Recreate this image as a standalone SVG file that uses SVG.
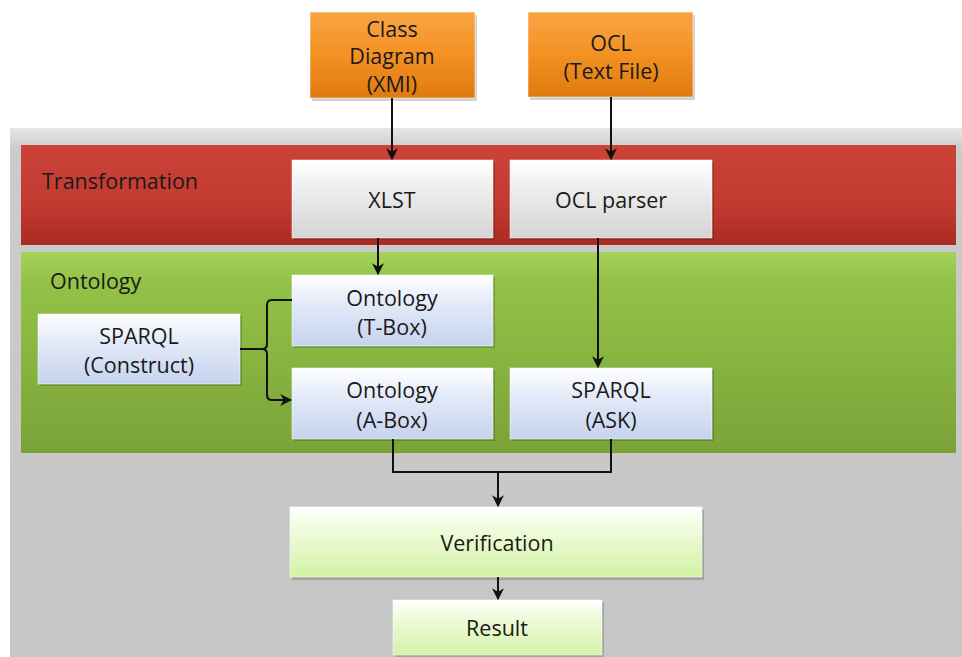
<svg xmlns="http://www.w3.org/2000/svg" width="962" height="657" viewBox="0 0 962 657">
<defs>
<linearGradient id="gOrange" x1="0" y1="0" x2="0" y2="1"><stop offset="0" stop-color="#f9a545"/><stop offset="0.5" stop-color="#f39122"/><stop offset="1" stop-color="#e07a10"/></linearGradient>
<linearGradient id="gGray" x1="0" y1="0" x2="0" y2="1"><stop offset="0" stop-color="#ffffff"/><stop offset="0.4" stop-color="#ececec"/><stop offset="1" stop-color="#d4d4d4"/></linearGradient>
<linearGradient id="gBlue" x1="0" y1="0" x2="0" y2="1"><stop offset="0" stop-color="#ffffff"/><stop offset="0.4" stop-color="#e3eaf8"/><stop offset="1" stop-color="#c6d3ee"/></linearGradient>
<linearGradient id="gLime" x1="0" y1="0" x2="0" y2="1"><stop offset="0" stop-color="#ffffff"/><stop offset="0.35" stop-color="#eefbd9"/><stop offset="1" stop-color="#d3f2a6"/></linearGradient>
<linearGradient id="gRed" x1="0" y1="0" x2="0" y2="1"><stop offset="0" stop-color="#cc4338"/><stop offset="0.6" stop-color="#c23a30"/><stop offset="1" stop-color="#a82c22"/></linearGradient>
<linearGradient id="gGreen" x1="0" y1="0" x2="0" y2="1"><stop offset="0" stop-color="#a6d25a"/><stop offset="0.15" stop-color="#93c247"/><stop offset="1" stop-color="#7aa338"/></linearGradient>
<linearGradient id="gPanel" x1="0" y1="0" x2="0" y2="1"><stop offset="0" stop-color="#e6e6e6"/><stop offset="0.04" stop-color="#cbcbcb"/><stop offset="1" stop-color="#c6c6c6"/></linearGradient>
<marker id="arr" viewBox="0 0 10 10" refX="9" refY="5" markerWidth="6" markerHeight="6" orient="auto" markerUnits="strokeWidth"><path d="M0,0 L10,5 L0,10 L3,5 z" fill="#111"/></marker>
</defs>
<style>
text{font-family:"Open Sans",Lato,"Liberation Sans",sans-serif;font-size:21.5px;fill:#1a1a1a;text-anchor:middle}
.lbl{text-anchor:start}
.box{stroke:#ffffff;stroke-opacity:0.5;stroke-width:1}
.conn{fill:none;stroke:#111;stroke-width:2}
.shadow{fill:#000;opacity:0.18}
</style>
<rect width="962" height="657" fill="#ffffff"/>
<g id="panel">
<rect x="10" y="128" width="952" height="529" fill="url(#gPanel)"/>
</g>
<g id="transformation">
<rect x="21" y="145" width="935" height="100" fill="url(#gRed)"/>
<text class="lbl" x="42" y="189">Transformation</text>
</g>
<g id="ontology-band">
<rect x="21" y="252" width="935" height="201" fill="url(#gGreen)"/>
<text class="lbl" x="50" y="289">Ontology</text>
</g>
<g id="class-diagram">
<rect x="312" y="15" width="165" height="86" class="shadow"/>
<rect x="310" y="12" width="165" height="86" fill="url(#gOrange)" class="box"/>
<text x="392" y="37">Class</text>
<text x="392" y="64">Diagram</text>
<text x="392" y="92">(XMI)</text>
</g>
<g id="ocl">
<rect x="530" y="15" width="165" height="85" class="shadow"/>
<rect x="528" y="12" width="165" height="85" fill="url(#gOrange)" class="box"/>
<text x="611" y="51">OCL</text>
<text x="611" y="79">(Text File)</text>
</g>
<g id="xlst">
<rect x="294" y="162" width="201" height="78" class="shadow"/>
<rect x="292" y="160" width="201" height="78" fill="url(#gGray)" class="box"/>
<text x="392" y="208">XLST</text>
</g>
<g id="ocl-parser">
<rect x="512" y="162" width="202" height="78" class="shadow"/>
<rect x="510" y="160" width="202" height="78" fill="url(#gGray)" class="box"/>
<text x="611" y="208">OCL parser</text>
</g>
<g id="tbox">
<rect x="294" y="277" width="201" height="71" class="shadow"/>
<rect x="292" y="275" width="201" height="71" fill="url(#gBlue)" class="box"/>
<text x="392" y="306">Ontology</text>
<text x="392" y="335">(T-Box)</text>
</g>
<g id="abox">
<rect x="294" y="370" width="201" height="71" class="shadow"/>
<rect x="292" y="368" width="201" height="71" fill="url(#gBlue)" class="box"/>
<text x="392" y="398">Ontology</text>
<text x="392" y="428">(A-Box)</text>
</g>
<g id="sparql-construct">
<rect x="40" y="316" width="202" height="70" class="shadow"/>
<rect x="38" y="314" width="202" height="70" fill="url(#gBlue)" class="box"/>
<text x="139" y="344">SPARQL</text>
<text x="139" y="373">(Construct)</text>
</g>
<g id="sparql-ask">
<rect x="512" y="370" width="202" height="71" class="shadow"/>
<rect x="510" y="368" width="202" height="71" fill="url(#gBlue)" class="box"/>
<text x="611" y="398">SPARQL</text>
<text x="611" y="428">(ASK)</text>
</g>
<g id="verification">
<rect x="292" y="510" width="412" height="70" class="shadow"/>
<rect x="290" y="507" width="412" height="70" fill="url(#gLime)" class="box"/>
<text x="497" y="551">Verification</text>
</g>
<g id="result">
<rect x="395" y="602" width="209" height="55" class="shadow"/>
<rect x="393" y="600" width="209" height="55" fill="url(#gLime)" class="box"/>
<text x="497" y="636">Result</text>
</g>
<g id="connectors">
<path class="conn" d="M392,98 V159" marker-end="url(#arr)"/>
<path class="conn" d="M611,97 V159" marker-end="url(#arr)"/>
<path class="conn" d="M378,238 V274" marker-end="url(#arr)"/>
<path class="conn" d="M598,238 V367" marker-end="url(#arr)"/>
<path class="conn" d="M240,349 H262 Q267,349 267,344 V305 Q267,300 272,300 H292"/>
<path class="conn" d="M262,349 Q267,349 267,354 V395 Q267,400 272,400 H291" marker-end="url(#arr)"/>
<path class="conn" d="M393,439 V472 H611 V439"/>
<path class="conn" d="M498,472 V506" marker-end="url(#arr)"/>
<path class="conn" d="M498,577 V599" marker-end="url(#arr)"/>
</g>
</svg>
